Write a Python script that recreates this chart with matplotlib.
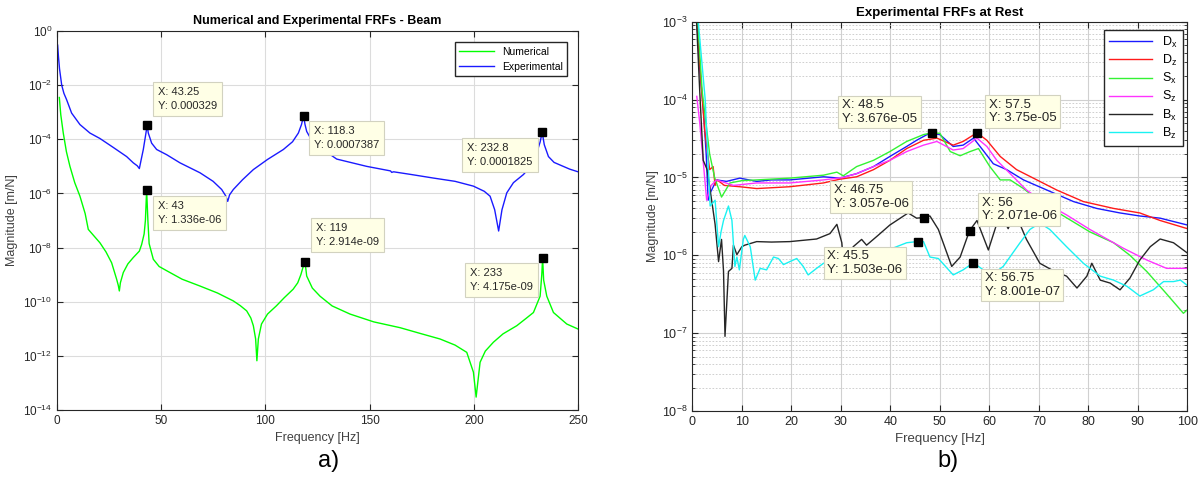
import matplotlib
matplotlib.use('Agg')
import matplotlib.pyplot as plt
from matplotlib.ticker import LogLocator, NullFormatter, NullLocator

plt.rcParams['font.family'] = ['Liberation Sans', 'DejaVu Sans']
plt.rcParams['mathtext.default'] = 'regular'

# ---- a) numerical vs experimental (beam) ----
freq_exp = [0.3, 0.7, 1.2, 2.25, 3.3, 4.6, 7.0, 11.0, 15.8, 20.6, 27.0, 33.4, 36.6, 38.5, 39.5, 40.4,
            41.4, 42.4, 43.25, 43.8, 45.4, 47.8, 52.6, 59, 68.6, 74.9, 79, 81.0, 81.9, 82.8, 84.6,
            89, 94.2, 101, 108.6, 113, 115.8, 117.3, 118.3, 119.0, 119.8, 122, 126.2, 134.2, 148.6,
            160.0, 160.6, 161.5, 170, 180.6, 191, 199.8, 205, 207.8, 210, 211.9, 213.5, 215.8, 219,
            223.8, 228, 230.2, 231.8, 232.8, 233.8, 235.8, 238.5, 242.9, 246, 250]
mag_exp = [3.0e-1, 1.1e-1, 4e-2, 1.0e-2, 5e-3, 2.9e-3, 9.3e-4, 3.5e-4, 1.7e-4, 1.07e-4, 5.0e-5,
           2.3e-5, 1.35e-5, 1.05e-5, 8.3e-6, 1.8e-5, 4.2e-5, 1.26e-4, 3.29e-4, 1.7e-4, 7.2e-5,
           4.2e-5, 2.7e-5, 1.35e-5, 5.8e-6, 2.8e-6, 1.4e-6, 8e-7, 5.1e-7, 8.9e-7, 1.4e-6, 3.2e-6,
           7.6e-6, 1.8e-5, 4.2e-5, 8.1e-5, 1.7e-4, 3.5e-4, 7.387e-4, 3.5e-4, 1.95e-4, 9.8e-5, 5.0e-5,
           1.86e-5, 1.0e-5, 6.8e-6, 6.0e-6, 6.3e-6, 5.0e-6, 3.7e-6, 2.8e-6, 1.86e-6, 1.2e-6, 7.9e-7,
           2.5e-7, 4.1e-8, 2.5e-7, 1.05e-6, 2.5e-6, 5.0e-6, 1.15e-5, 3.2e-5, 7.9e-5, 1.825e-4,
           6.3e-5, 2.3e-5, 1.4e-5, 1.0e-5, 7.9e-6, 6.3e-6]

freq_num = [1.1, 1.8, 3.0, 4.5, 6.2, 8.5, 11, 13.5, 15.0, 17.9, 20.6, 23.5, 26.2, 28.6, 29.4, 29.9,
            30.4, 31.8, 34, 36.6, 39.5, 40.6, 41.8, 42.4, 43.0, 43.6, 44.2, 46.2, 49, 52.6, 60, 68.6,
            77, 84.6, 88, 91, 93, 94.2, 95.3, 95.9, 96.6, 98.1, 101, 105.3, 109, 113.3, 115.5, 117,
            118.5, 119.0, 119.5, 119.8, 122.5, 126.2, 132, 140.6, 152, 164.6, 175, 183.8, 191, 196.6,
            199.8, 201.1, 203.0, 205.5, 209.4, 214, 220.6, 225, 228.6, 231.8, 232.6, 233.0, 233.5,
            235.0, 238.2, 244.6, 250]
mag_num = [3.5e-3, 8.1e-4, 1.7e-4, 3.5e-5, 1.0e-5, 2.5e-6, 7.9e-7, 1.8e-7, 4.7e-8, 2.6e-8, 1.5e-8,
           6.9e-9, 2.75e-9, 6.8e-10, 4e-10, 2.5e-10, 5e-10, 1.2e-9, 2.5e-9, 4.3e-9, 7.4e-9, 1.3e-8,
           3.2e-8, 1.0e-7, 1.336e-6, 1.0e-7, 1.4e-8, 3.7e-9, 2.0e-9, 1.4e-9, 6.8e-10, 3.8e-10,
           2.1e-10, 1.07e-10, 7.1e-11, 4.6e-11, 2.5e-11, 1.3e-11, 4.2e-12, 6.6e-13, 4.2e-12, 1.5e-11,
           3.5e-11, 7.1e-11, 1.4e-10, 2.9e-10, 5e-10, 1.0e-9, 2.5e-9, 2.914e-9, 1.4e-9, 8.9e-10,
           3.2e-10, 1.6e-10, 7e-11, 3.5e-11, 1.8e-11, 1.1e-11, 6.5e-12, 4.2e-12, 2.5e-12, 1.35e-12,
           2.5e-13, 3.0e-14, 5.8e-13, 1.5e-12, 3.2e-12, 6.5e-12, 1.3e-11, 2.4e-11, 4.0e-11, 1.6e-10,
           1.0e-9, 4.175e-9, 6.3e-10, 1.6e-10, 4.0e-11, 1.5e-11, 9.8e-12]

# datatips: point (x, y), text, box upper-left corner (x, y)
tips_a = [(43.25, 3.29e-4, 'X: 43.25\nY: 0.000329', 46.0, 10**-1.88),
          (43.0, 1.336e-6, 'X: 43\nY: 1.336e-06', 45.9, 10**-6.10),
          (118.3, 7.387e-4, 'X: 118.3\nY: 0.0007387', 121.0, 10**-3.34),
          (119.0, 2.914e-9, 'X: 119\nY: 2.914e-09', 122.1, 10**-6.90),
          (232.8, 1.825e-4, 'X: 232.8\nY: 0.0001825', 194.5, 10**-3.95),
          (233.0, 4.175e-9, 'X: 233\nY: 4.175e-09', 195.9, 10**-8.56)]

# ---- b) experimental FRFs at rest ----
f_dx = [0.5, 1.5, 2.2, 2.8, 3.2, 3.6, 4.9, 6.9, 9.6, 13.0, 16, 19.7, 26.5, 29.8, 33.2, 36.6, 39.9,
        43.3, 45.3, 47.4, 48.5, 50.0, 52.7, 54.7, 56.8, 58.8, 60.8, 63.5, 66.9, 71.6, 77.0, 81.7,
        86.4, 90.4, 94.5, 100]
m_dx = [3e-3, 2.5e-4, 7.9e-5, 2.0e-5, 5.1e-6, 6.3e-6, 9.3e-6, 8.9e-6, 9.8e-6, 8.9e-6, 9.3e-6,
        9.3e-6, 1.02e-5, 9.8e-6, 1.12e-5, 1.38e-5, 1.86e-5, 2.5e-5, 3.0e-5, 3.55e-5, 3.676e-5,
        3.55e-5, 2.5e-5, 2.6e-5, 3.2e-5, 2.2e-5, 1.5e-5, 1.26e-5, 9.3e-6, 6.9e-6, 4.9e-6, 4.0e-6,
        3.5e-6, 3.2e-6, 3.0e-6, 2.45e-6]

f_dz = [0.5, 1.6, 2.5, 3.5, 4.2, 4.6, 5.0, 6.5, 9.6, 13.0, 19.7, 26.5, 29.8, 33.2, 36.6, 39.9,
        43.3, 46.7, 49.4, 52.7, 54.7, 57.5, 59.5, 62.2, 65.5, 69.6, 73.6, 79.0, 85.1, 90.4, 94.5, 100]
m_dz = [3e-3, 2.2e-4, 4.0e-5, 1.26e-5, 1.38e-5, 7.9e-6, 9.3e-6, 7.9e-6, 7.6e-6, 7.2e-6, 7.6e-6,
        8.5e-6, 9.5e-6, 1.02e-5, 1.26e-5, 1.66e-5, 2.35e-5, 3.0e-5, 3.2e-5, 2.6e-5, 2.9e-5,
        3.75e-5, 3.0e-5, 1.86e-5, 1.26e-5, 9.3e-6, 6.9e-6, 4.9e-6, 4.0e-6, 3.5e-6, 2.8e-6, 2.2e-6]

f_sx = [0.6, 2.0, 3.5, 4.5, 5.9, 7.6, 10, 13, 19.7, 26.5, 29.2, 30.5, 33.2, 36.6, 39.9, 43.3, 46.7,
        48.0, 50.0, 52.1, 54.1, 56.1, 57.8, 60.1, 62.2, 64.2, 66.9, 70, 75, 80.3, 85.1, 88.4, 91.8,
        95.8, 99.2, 100]
m_sx = [3e-3, 1.26e-4, 2.0e-5, 1.0e-5, 5.6e-6, 8.5e-6, 9.1e-6, 9.3e-6, 9.8e-6, 1.07e-5, 1.17e-5,
        1.05e-5, 1.38e-5, 1.66e-5, 2.15e-5, 2.9e-5, 3.55e-5, 3.7e-5, 3.7e-5, 2.15e-5, 1.9e-5,
        2.15e-5, 2.35e-5, 1.38e-5, 9.3e-6, 9.3e-6, 7.2e-6, 5.0e-6, 3.2e-6, 2.0e-6, 1.45e-6, 1.0e-6,
        6.2e-7, 3.2e-7, 1.8e-7, 2.0e-7]

f_sz = [0.9, 1.5, 2.9, 3.8, 4.9, 8.3, 13, 19.7, 26.5, 30.5, 33.2, 36.6, 39.9, 43.3, 46.7, 49.4,
        52.7, 54.7, 57.5, 59.5, 61.5, 64.2, 67.5, 71, 75.6, 80.3, 87.1, 91.8, 95.8, 100]
m_sz = [1.1e-4, 5.0e-5, 5.1e-6, 7.9e-6, 9.3e-6, 7.9e-6, 8.5e-6, 8.5e-6, 9.3e-6, 1.0e-5, 1.12e-5,
        1.38e-5, 1.66e-5, 2.15e-5, 2.6e-5, 2.9e-5, 2.25e-5, 2.35e-5, 3.2e-5, 2.5e-5, 1.66e-5,
        1.12e-5, 6.9e-6, 4.8e-6, 3.3e-6, 2.15e-6, 1.23e-6, 8.7e-7, 6.8e-7, 6.8e-7]

f_bx = [0.8, 1.5, 2.2, 3.0, 3.9, 4.6, 5.3, 5.9, 6.3, 6.6, 7.3, 8.0, 8.3, 9.0, 10.0, 10.6, 13.0, 16,
        19.7, 25.1, 27.8, 29.2, 30.2, 30.8, 31.6, 32.5, 34.2, 35.2, 37.5, 39.9, 43.6, 45.3, 46.75,
        48.0, 49.7, 52.4, 54.1, 56.0, 57.5, 59.8, 62.2, 63.8, 65.2, 67.5, 70.2, 73, 75.6, 77.7,
        79.7, 80.7, 82.4, 84.4, 86.4, 88.4, 90.4, 92.5, 94.5, 97.2, 100]
m_bx = [1.2e-3, 1.26e-4, 1.66e-5, 1.26e-5, 5.1e-6, 2.5e-6, 8.3e-7, 1.6e-6, 6.3e-7, 9.1e-8, 6.2e-7,
        6.8e-7, 1.35e-6, 1.02e-6, 1.29e-6, 1.35e-6, 1.5e-6, 1.48e-6, 1.5e-6, 1.62e-6, 1.9e-6,
        2.5e-6, 1.45e-6, 5.0e-7, 8.9e-7, 1.29e-6, 1.6e-6, 1.35e-6, 1.8e-6, 2.45e-6, 3.5e-6, 3.0e-6,
        3.057e-6, 3.2e-6, 2.15e-6, 7.2e-7, 9.5e-7, 2.071e-6, 2.8e-6, 1.17e-6, 3.5e-6, 2.2e-6,
        3.5e-6, 1.6e-6, 7.9e-7, 6.3e-7, 5.4e-7, 3.8e-7, 5.4e-7, 7.9e-7, 4.8e-7, 4.4e-7, 3.6e-7,
        5.1e-7, 8.7e-7, 1.29e-6, 1.62e-6, 1.45e-6, 1.07e-6]

f_bz = [1.2, 2.6, 3.6, 4.6, 5.3, 5.8, 6.3, 7.3, 8.0, 8.6, 9.0, 9.5, 10.3, 10.6, 11.7, 12.7, 13.7,
        15.0, 16.4, 17.4, 18.4, 19.7, 21.1, 22.4, 23.4, 25.1, 26.5, 30, 35, 40, 43.3, 45.5, 46.7,
        48.0, 49.7, 52.7, 54.7, 56.75, 58.8, 60.5, 62.8, 66.2, 68.2, 70.2, 72.2, 75.6, 79.0, 82.4,
        85.1, 87.8, 90.4, 93.1, 95.2, 97.2, 98.6, 100]
m_bz = [1.0e-3, 1.0e-4, 4.3e-6, 5.1e-6, 1.29e-6, 2.0e-6, 2.8e-6, 4.3e-6, 2.8e-6, 7.2e-7, 9.5e-7,
        6.5e-7, 1.6e-6, 1.8e-6, 1.29e-6, 4.8e-7, 6.8e-7, 6.5e-7, 9.5e-7, 9.1e-7, 7.6e-7, 8.3e-7,
        9.1e-7, 7.2e-7, 5.6e-7, 6.8e-7, 7.9e-7, 8.9e-7, 1.05e-6, 1.2e-6, 1.45e-6, 1.503e-6, 1.5e-6,
        9.5e-7, 9.1e-7, 5.6e-7, 6.5e-7, 8.001e-7, 6.5e-7, 5.6e-7, 7.2e-7, 1.45e-6, 2.15e-6, 2.6e-6,
        2.15e-6, 1.29e-6, 7.9e-7, 5.4e-7, 4.8e-7, 4.0e-7, 3.0e-7, 3.6e-7, 4.6e-7, 4.6e-7, 4.8e-7,
        4.1e-7]

tips_b = [(48.5, 3.676e-5, 'X: 48.5\nY: 3.676e-05', 29.5, 10**-3.95),
          (57.5, 3.75e-5, 'X: 57.5\nY: 3.75e-05', 59.1, 10**-3.94),
          (46.75, 3.057e-6, 'X: 46.75\nY: 3.057e-06', 27.8, 10**-5.04),
          (56.0, 2.071e-6, 'X: 56\nY: 2.071e-06', 57.7, 10**-5.20),
          (45.5, 1.503e-6, 'X: 45.5\nY: 1.503e-06', 26.5, 10**-5.89),
          (56.75, 8.001e-7, 'X: 56.75\nY: 8.001e-07', 58.3, 10**-6.17)]

axcol = '#262626'


def style_axes(ax, ls):
    ax.tick_params(which='both', direction='in', top=True, right=True, colors=axcol,
                   labelsize=ls, length=4)
    ax.tick_params(which='minor', length=2)
    for s in ax.spines.values():
        s.set_color(axcol)
        s.set_linewidth(0.8)


def datatips(ax, tips, fs, pad, lsp):
    box = dict(boxstyle='square,pad=%g' % pad, facecolor='#FFFFE6', edgecolor='#D2D2C0',
               linewidth=0.8)
    for x, y, s, bx, by in tips:
        ax.plot(x, y, 's', color='k', ms=5.5, zorder=5)
        ax.annotate(s, xy=(bx, by), xycoords='data', xytext=(fs * pad, -fs * pad),
                    textcoords='offset points', ha='left', va='top', fontsize=fs,
                    color=axcol, linespacing=lsp, bbox=box, zorder=6)


fig = plt.figure(figsize=(12.03, 4.83), dpi=100)

ax1 = fig.add_axes([0.0474, 0.1511, 0.4331, 0.7847])
ax1.plot(freq_num, mag_num, color=(0, 1, 0), lw=1.0, label='Numerical')
ax1.plot(freq_exp, mag_exp, color=(0.1, 0.1, 1), lw=1.0, label='Experimental')
ax1.set_yscale('log')
ax1.set_xlim(0, 250)
ax1.set_ylim(1e-14, 1)
ax1.set_xticks([0, 50, 100, 150, 200, 250])
ax1.set_yticks([10.0**k for k in range(-14, 1, 2)])
ax1.yaxis.set_minor_locator(NullLocator())
ax1.grid(True, which='major', color='#DCDCDC', lw=0.8)
ax1.set_axisbelow(True)
style_axes(ax1, 8.5)
ax1.set_title('Numerical and Experimental FRFs - Beam', fontsize=9, fontweight='bold', pad=5)
ax1.set_xlabel('Frequency [Hz]', fontsize=9, color='#404040')
ax1.set_ylabel('Magnitude [m/N]', fontsize=9, color='#404040', labelpad=4)
ax1.legend(loc='upper right', bbox_to_anchor=(0.979, 0.97), borderaxespad=0, fontsize=7.5,
           fancybox=False, edgecolor=axcol, framealpha=1, handlelength=3.3)
datatips(ax1, tips_a, 8, 0.45, 1.5)

ax2 = fig.add_axes([0.5755, 0.149, 0.4115, 0.806])
ax2.plot(f_dx, m_dx, color=(0.1, 0.1, 1), lw=1.0, label='$D_x$')
ax2.plot(f_dz, m_dz, color=(1, 0.1, 0.1), lw=1.0, label='$D_z$')
ax2.plot(f_sx, m_sx, color=(0.2, 0.95, 0.2), lw=1.0, label='$S_x$')
ax2.plot(f_sz, m_sz, color=(1, 0.2, 1), lw=1.0, label='$S_z$')
ax2.plot(f_bx, m_bx, color=(0.15, 0.15, 0.15), lw=1.0, label='$B_x$')
ax2.plot(f_bz, m_bz, color=(0.1, 0.95, 0.95), lw=1.0, label='$B_z$')
ax2.set_yscale('log')
ax2.set_xlim(0, 100)
ax2.set_ylim(1e-8, 1e-3)
ax2.set_xticks(range(0, 101, 10))
ax2.yaxis.set_major_locator(LogLocator(base=10, numticks=10))
ax2.yaxis.set_minor_locator(LogLocator(base=10, subs=range(2, 10), numticks=10))
ax2.yaxis.set_minor_formatter(NullFormatter())
ax2.grid(True, which='major', color='#D0D0D0', lw=0.8)
ax2.grid(True, which='minor', axis='y', color='#C8C8C8', lw=0.6, ls=(0, (2, 2)))
ax2.set_axisbelow(True)
style_axes(ax2, 9)
ax2.set_title('Experimental FRFs at Rest', fontsize=9.5, fontweight='bold', pad=4)
ax2.set_xlabel('Frequency [Hz]', fontsize=9.5, color='#404040')
ax2.set_ylabel('Magnitude [m/N]', fontsize=9, color='#404040', labelpad=2)
ax2.legend(loc='upper right', bbox_to_anchor=(0.991, 0.98), borderaxespad=0, fontsize=9,
           fancybox=False, edgecolor=axcol, framealpha=1, handlelength=3.5, labelspacing=0.25)
datatips(ax2, tips_b, 9.5, 0.28, 1.15)

fig.text(0.273, 0.045, 'a)', fontsize=17, ha='center', va='center')
fig.text(0.788, 0.045, 'b)', fontsize=17, ha='center', va='center')

fig.savefig('out.png', dpi=100)
